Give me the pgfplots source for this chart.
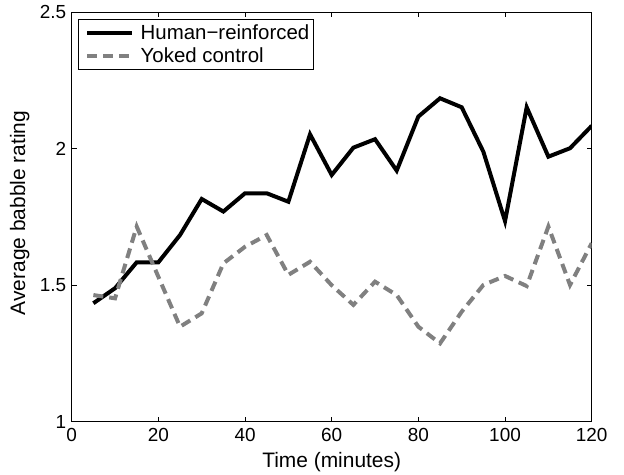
\documentclass[border=0pt]{standalone}
\usepackage{fontspec}
\setmainfont{Liberation Sans}
\usepackage{pgfplots}
\pgfplotsset{compat=1.18}
\definecolor{yoked}{rgb}{0.5,0.5,0.5}

\begin{document}
\begin{tikzpicture}
\begin{axis}[
    scale only axis,
    width=520bp, height=409.4bp,
    xmin=0, xmax=120, ymin=1, ymax=2.5,
    xtick={0,20,...,120},
    ytick={1,1.5,2,2.5},
    yticklabels={1,1.5,2,2.5},
    /pgf/number format/assume math mode=true,
    tick align=inside,
    major tick length=5bp,
    axis line style={line width=0.8bp},
    every tick/.style={black, line width=0.8bp},
    tick label style={font=\fontsize{19}{22}\selectfont},
    xticklabel style={yshift=-3bp},
    yticklabel style={xshift=-2bp},
    label style={font=\fontsize{21}{24}\selectfont},
    xlabel={Time (minutes)},
    ylabel={Average babble rating},
    xlabel style={at={(axis description cs:0.5,-0.098)}, anchor=center},
    ylabel style={at={(axis description cs:-0.1,0.51)}, anchor=center},
    legend style={
        at={(axis description cs:0,1)}, anchor=north west,
        xshift=6.6bp, yshift=-6.7bp,
        draw=black, line width=0.8bp,
        font=\fontsize{20.5}{24}\selectfont,
        inner xsep=0bp, inner ysep=4bp,
        row sep=5bp,
        nodes={inner xsep=4bp, inner ysep=1bp},
    },
    legend cell align=left,
    legend image code/.code={%
        \draw[#1, xshift=6.5bp] (0bp,0bp) -- (45bp,0bp);
        \path (0bp,0bp) (54bp,0bp);},
]
\addplot[black, line width=4bp] coordinates {
(5,1.434) (10,1.489) (15,1.584) (20,1.584) (25,1.684) (30,1.816)
(35,1.770) (40,1.837) (45,1.837) (50,1.806) (55,2.053) (60,1.904)
(65,2.004) (70,2.035) (75,1.920) (80,2.118) (85,2.185) (90,2.152)
(95,1.989) (100,1.735) (105,2.152) (110,1.971) (115,2.002) (120,2.084)
};
\addlegendentry{Human\textminus reinforced}
\addplot[yoked, line width=4bp, dash pattern=on 10bp off 6bp] coordinates {
(5,1.464) (10,1.452) (15,1.715) (20,1.531) (25,1.348) (30,1.397)
(35,1.580) (40,1.641) (45,1.684) (50,1.538) (55,1.586) (60,1.500)
(65,1.428) (70,1.513) (75,1.464) (80,1.348) (85,1.287) (90,1.403)
(95,1.501) (100,1.534) (105,1.497) (110,1.715) (115,1.501) (120,1.654)
};
\addlegendentry{Yoked control}
\end{axis}
\useasboundingbox (-71.7bp,-52.3bp) rectangle (552.3bp,421.7bp);
\end{tikzpicture}
\end{document}
